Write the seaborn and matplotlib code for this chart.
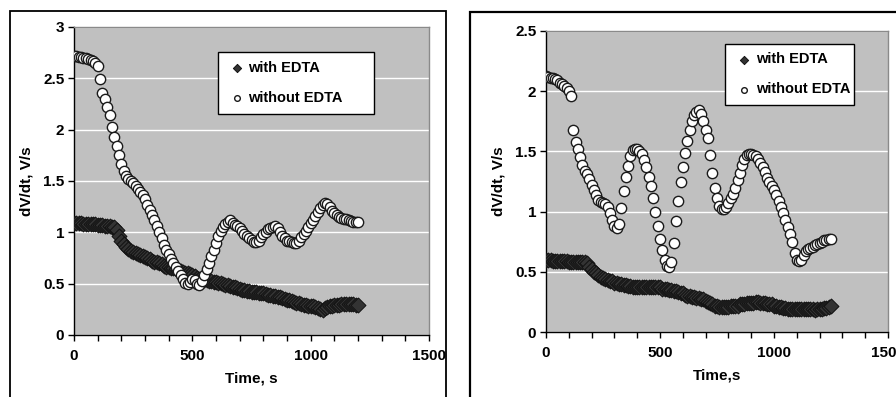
import numpy as np
import pandas as pd
import matplotlib
matplotlib.use("Agg")
import matplotlib.pyplot as plt
from matplotlib.patches import Rectangle
import seaborn as sns

plt.rcParams['font.family'] = ['Liberation Sans', 'DejaVu Sans']
plt.rcParams['font.weight'] = 'bold'

time_step = 10  # s, sampling interval

left_without = [2.72, 2.72, 2.71, 2.71, 2.70, 2.70, 2.69, 2.68, 2.67, 2.65,
                2.62, 2.49, 2.36, 2.30, 2.22, 2.14, 2.03, 1.93, 1.84, 1.75,
                1.67, 1.60, 1.55, 1.52, 1.50, 1.48, 1.45, 1.42, 1.39, 1.36,
                1.32, 1.27, 1.22, 1.17, 1.12, 1.06, 1.00, 0.94, 0.88, 0.83,
                0.79, 0.74, 0.70, 0.66, 0.62, 0.58, 0.55, 0.51, 0.50, 0.52,
                0.55, 0.54, 0.50, 0.49, 0.53, 0.58, 0.64, 0.70, 0.77, 0.83,
                0.90, 0.96, 1.01, 1.05, 1.08, 1.10, 1.12, 1.09, 1.07, 1.06,
                1.04, 1.01, 0.98, 0.96, 0.94, 0.93, 0.91, 0.91, 0.92, 0.95,
                0.98, 1.00, 1.03, 1.04, 1.05, 1.06, 1.04, 1.00, 0.96, 0.94,
                0.92, 0.92, 0.91, 0.90, 0.90, 0.92, 0.95, 0.98, 1.01, 1.05,
                1.09, 1.12, 1.16, 1.20, 1.24, 1.27, 1.29, 1.28, 1.25, 1.21,
                1.19, 1.17, 1.15, 1.14, 1.13, 1.13, 1.12, 1.11, 1.10, 1.10,
                1.10]

left_with = [1.09, 1.09, 1.09, 1.09, 1.08, 1.08, 1.08, 1.08, 1.08, 1.08,
             1.07, 1.07, 1.07, 1.06, 1.06, 1.06, 1.05, 1.05, 1.02, 0.96,
             0.92, 0.89, 0.86, 0.84, 0.82, 0.81, 0.80, 0.79, 0.78, 0.77,
             0.76, 0.75, 0.74, 0.72, 0.71, 0.71, 0.70, 0.69, 0.67, 0.66,
             0.66, 0.65, 0.65, 0.64, 0.63, 0.62, 0.61, 0.60, 0.60, 0.59,
             0.58, 0.57, 0.56, 0.55, 0.55, 0.54, 0.54, 0.53, 0.53, 0.52,
             0.52, 0.51, 0.51, 0.50, 0.49, 0.49, 0.48, 0.47, 0.47, 0.46,
             0.45, 0.44, 0.44, 0.43, 0.43, 0.42, 0.42, 0.42, 0.41, 0.41,
             0.41, 0.40, 0.39, 0.39, 0.38, 0.38, 0.37, 0.37, 0.36, 0.35,
             0.34, 0.34, 0.33, 0.32, 0.31, 0.31, 0.30, 0.29, 0.29, 0.28,
             0.28, 0.28, 0.27, 0.26, 0.25, 0.24, 0.26, 0.27, 0.28, 0.28,
             0.29, 0.29, 0.29, 0.30, 0.30, 0.30, 0.30, 0.30, 0.30, 0.29,
             0.29]

right_without = [2.13, 2.12, 2.11, 2.11, 2.10, 2.09, 2.07, 2.06, 2.04, 2.03,
                 2.00, 1.96, 1.68, 1.58, 1.52, 1.45, 1.39, 1.34, 1.31, 1.27,
                 1.22, 1.18, 1.14, 1.10, 1.08, 1.07, 1.06, 1.04, 0.99, 0.93,
                 0.88, 0.86, 0.90, 1.03, 1.17, 1.29, 1.38, 1.46, 1.51, 1.52,
                 1.52, 1.50, 1.48, 1.43, 1.37, 1.29, 1.21, 1.11, 1.00, 0.88,
                 0.77, 0.68, 0.60, 0.55, 0.54, 0.58, 0.74, 0.92, 1.09, 1.25,
                 1.37, 1.49, 1.59, 1.68, 1.75, 1.80, 1.83, 1.84, 1.81, 1.75,
                 1.68, 1.61, 1.47, 1.32, 1.20, 1.11, 1.05, 1.02, 1.02, 1.04,
                 1.07, 1.11, 1.15, 1.20, 1.26, 1.32, 1.39, 1.44, 1.47, 1.48,
                 1.48, 1.47, 1.46, 1.44, 1.40, 1.37, 1.33, 1.28, 1.25, 1.21,
                 1.18, 1.14, 1.09, 1.04, 0.99, 0.93, 0.87, 0.81, 0.75, 0.66,
                 0.60, 0.59, 0.60, 0.64, 0.67, 0.69, 0.70, 0.71, 0.72, 0.73,
                 0.74, 0.75, 0.76, 0.76, 0.77, 0.77]

right_with = [0.60, 0.60, 0.60, 0.59, 0.59, 0.59, 0.59, 0.59, 0.59, 0.59,
              0.58, 0.58, 0.58, 0.58, 0.58, 0.58, 0.58, 0.58, 0.57, 0.54,
              0.52, 0.50, 0.49, 0.47, 0.46, 0.45, 0.44, 0.43, 0.42, 0.42,
              0.41, 0.41, 0.40, 0.40, 0.39, 0.39, 0.38, 0.38, 0.37, 0.37,
              0.37, 0.37, 0.37, 0.37, 0.37, 0.37, 0.37, 0.37, 0.37, 0.37,
              0.37, 0.36, 0.36, 0.36, 0.35, 0.35, 0.34, 0.34, 0.33, 0.32,
              0.32, 0.31, 0.30, 0.30, 0.29, 0.29, 0.28, 0.28, 0.27, 0.27,
              0.26, 0.25, 0.24, 0.23, 0.22, 0.22, 0.21, 0.21, 0.21, 0.21,
              0.21, 0.22, 0.22, 0.22, 0.22, 0.23, 0.23, 0.23, 0.24, 0.24,
              0.24, 0.24, 0.25, 0.25, 0.24, 0.24, 0.24, 0.23, 0.23, 0.23,
              0.22, 0.22, 0.21, 0.21, 0.20, 0.20, 0.19, 0.19, 0.19, 0.19,
              0.19, 0.19, 0.19, 0.19, 0.19, 0.19, 0.19, 0.19, 0.18, 0.19,
              0.19, 0.19, 0.20, 0.20, 0.21, 0.22]

series_labels = ["with EDTA", "without EDTA"]
x_label_left = "Time, s"
x_label_right = "Time,s"
y_label = "dV/dt, V/s"


def frame(with_vals, without_vals):
    rows = []
    for lab, vals in zip(series_labels, [with_vals, without_vals]):
        t = np.arange(len(vals)) * time_step
        rows.append(pd.DataFrame({"Time": t, "dVdt": vals, "series": lab}))
    return pd.concat(rows, ignore_index=True)


fig = plt.figure(figsize=(8.96, 3.97), dpi=100)
W, H = 896, 397

def add_ax(l, r, t, b):
    return fig.add_axes([l / W, 1 - b / H, (r - l) / W, (b - t) / H])

axL = add_ax(74, 429, 27, 335)
axR = add_ax(546, 888, 31, 332)

# outer panel frames
fig.patches.append(Rectangle((10 / W, -0.05), (446 - 10) / W, 1.05 - 11 / H,
                             transform=fig.transFigure, fill=False,
                             edgecolor='black', linewidth=1.3))
fig.patches.append(Rectangle((470 / W, -0.05), (896 - 470) / W + 0.1,
                             1.05 - 12 / H,
                             transform=fig.transFigure, fill=False,
                             edgecolor='black', linewidth=1.6))

panels = [
    (axL, frame(left_with, left_without), 3.0, 0.5, x_label_left,
     (0.405, 0.918, 0.44, 0.0)),
    (axR, frame(right_with, right_without), 2.5, 0.5, x_label_right,
     (0.524, 0.958, 0.378, 0.0)),
]

for ax, df, ymax, ystep, xlab, legbox in panels:
    ax.set_facecolor('#c0c0c0')
    d_with = df[df.series == series_labels[0]]
    d_wo = df[df.series == series_labels[1]]
    sns.scatterplot(data=d_with, x="Time", y="dVdt", ax=ax, marker='D', s=58,
                    color='#333333', edgecolor='#111111', linewidth=0.7,
                    label=series_labels[0], zorder=3)
    sns.scatterplot(data=d_wo, x="Time", y="dVdt", ax=ax, marker='o', s=55,
                    color='white', edgecolor='#1a1a1a', linewidth=1.0,
                    label=series_labels[1], zorder=4)
    ax.set_xlim(0, 1500)
    ax.set_ylim(0, ymax)
    ax.set_xticks([0, 500, 1000, 1500])
    ax.set_xticks(np.arange(0, 1501, 100), minor=True)
    ax.set_yticks(np.arange(0, ymax + 0.01, ystep))
    ax.set_yticklabels([f"{v:g}" for v in np.arange(0, ymax + 0.01, ystep)])
    ax.tick_params(axis='both', which='both', direction='out', length=4,
                   width=1, color='black', labelsize=11)
    ax.tick_params(axis='x', which='major', pad=6)
    ax.tick_params(axis='y', which='major', pad=3)
    for lab in ax.get_xticklabels() + ax.get_yticklabels():
        lab.set_fontweight('bold')
    ax.grid(axis='y', color='white', linewidth=1.0)
    ax.grid(axis='x', visible=False)
    ax.set_axisbelow(True)
    for s in ['left', 'bottom']:
        ax.spines[s].set_color('black')
        ax.spines[s].set_linewidth(1.0)
    for s in ['top', 'right']:
        ax.spines[s].set_color('#8a8a8a')
        ax.spines[s].set_linewidth(1.0)
    ax.set_xlabel(xlab, fontsize=11, fontweight='bold', labelpad=6)
    ax.set_ylabel(y_label, fontsize=11, fontweight='bold', labelpad=7)
    leg = ax.legend(loc='upper left', bbox_to_anchor=legbox, mode='expand',
                    frameon=True, fancybox=False, fontsize=10.5,
                    markerscale=0.55, handletextpad=0.1, labelspacing=1.1,
                    borderpad=0.6, handlelength=1.4, borderaxespad=0)
    leg.get_frame().set_edgecolor('black')
    leg.get_frame().set_linewidth(1.0)
    leg.get_frame().set_facecolor('white')
    leg.get_frame().set_alpha(1)
    for t in leg.get_texts():
        t.set_fontweight('bold')
    leg.set_zorder(10)

fig.savefig("out.png", dpi=100)
